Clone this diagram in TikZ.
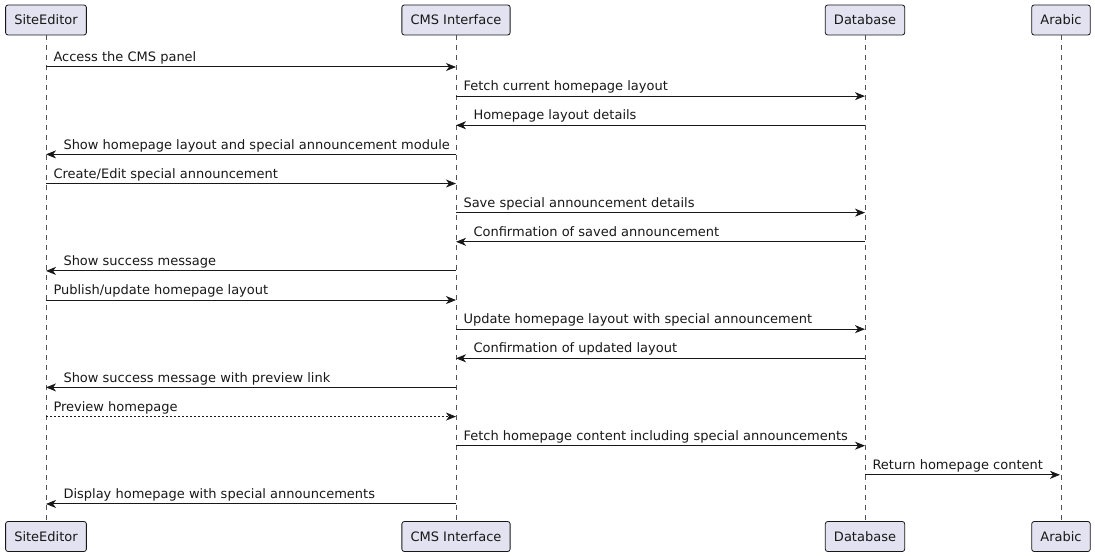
\documentclass[tikz,border=0pt]{standalone}
\usepackage{fontspec}
\setmainfont{DejaVu Sans}
\usetikzlibrary{arrows.meta}

\definecolor{actorfill}{HTML}{E2E2F0}
\definecolor{ink}{HTML}{181818}

\begin{document}
\begin{tikzpicture}[x=0.75pt, y=-0.75pt, >={Stealth[length=7.5pt, width=6pt, inset=2.2pt]}]
    \useasboundingbox (0, 0) rectangle (1095, 556);

    \tikzset{
        every node/.style = {font = \fontsize{9.75pt}{12pt}\selectfont, text = ink},
        actor/.style = {draw = ink, fill = actorfill, rounded corners = 1.8pt, line width = 0.6pt,
                        inner xsep = 6.5pt, minimum height = 22.5pt},
        lifeline/.style = {draw = ink!75, line width = 0.5pt, dash pattern = on 3.75pt off 3.75pt},
        msg/.style = {->, draw = ink, line width = 0.75pt},
        fwd/.style = {pos = 0, anchor = base west, inner xsep = 0pt, xshift = 5.25pt, yshift = 4pt},
        bwd/.style = {pos = 1, anchor = base west, inner xsep = 0pt, xshift = 12.75pt, yshift = 4pt}
    }

    % participants
    \node[actor] (se) at (46, 20) {SiteEditor};
    \node[actor] (cms) at (456, 20) {CMS Interface};
    \node[actor] (db) at (865, 20) {Database};
    \node[actor] (ar) at (1061, 20) {Arabic};

    \node[actor] (se-b) at (46, 536.5) {SiteEditor};
    \node[actor] (cms-b) at (456, 536.5) {CMS Interface};
    \node[actor] (db-b) at (865, 536.5) {Database};
    \node[actor] (ar-b) at (1061, 536.5) {Arabic};

    \foreach \n in {se, cms, db, ar}
        \draw[lifeline] (\n) -- (\n-b);

    % message points on each lifeline
    \foreach \i in {1, ..., 16} {
        \pgfmathsetmacro{\y}{67 + 29.13 * (\i - 1)}
        \foreach \n/\x in {se/46, cms/456, db/865, ar/1060}
            \coordinate (\n\i) at (\x, \y);
    }

    \draw[msg] (se1) -- node[fwd] {Access the CMS panel} (cms1);
    \draw[msg] (cms2) -- node[fwd] {Fetch current homepage layout} (db2);
    \draw[msg] (db3) -- node[bwd] {Homepage layout details} (cms3);
    \draw[msg] (cms4) -- node[bwd] {Show homepage layout and special announcement module} (se4);
    \draw[msg] (se5) -- node[fwd] {Create/Edit special announcement} (cms5);
    \draw[msg] (cms6) -- node[fwd] {Save special announcement details} (db6);
    \draw[msg] (db7) -- node[bwd] {Confirmation of saved announcement} (cms7);
    \draw[msg] (cms8) -- node[bwd] {Show success message} (se8);
    \draw[msg] (se9) -- node[fwd] {Publish/update homepage layout} (cms9);
    \draw[msg] (cms10) -- node[fwd] {Update homepage layout with special announcement} (db10);
    \draw[msg] (db11) -- node[bwd] {Confirmation of updated layout} (cms11);
    \draw[msg] (cms12) -- node[bwd] {Show success message with preview link} (se12);
    \draw[msg, dash pattern = on 1.5pt off 1.5pt] (se13) -- node[fwd] {Preview homepage} (cms13);
    \draw[msg] (cms14) -- node[fwd] {Fetch homepage content including special announcements} (db14);
    \draw[msg] (db15) -- node[fwd] {Return homepage content} (ar15);
    \draw[msg] (cms16) -- node[bwd] {Display homepage with special announcements} (se16);
\end{tikzpicture}
\end{document}
